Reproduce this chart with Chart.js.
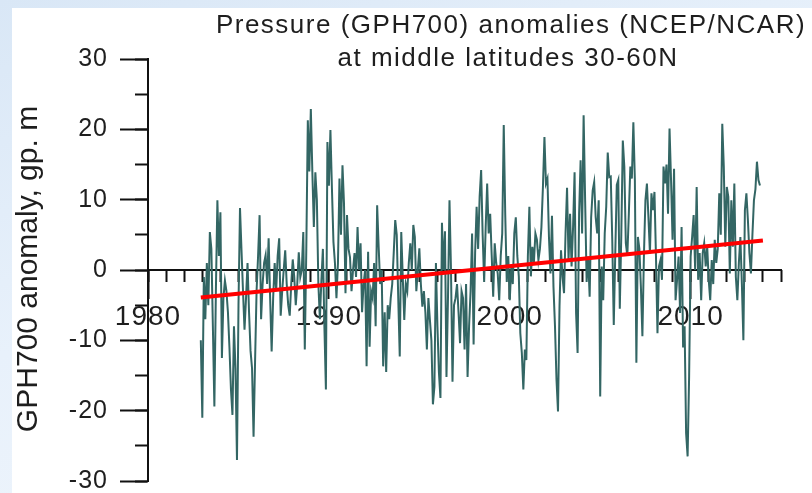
<!DOCTYPE html>
<html>
<head>
<meta charset="utf-8">
<title>GPH700 anomalies</title>
<script src="https://cdn.jsdelivr.net/npm/chart.js@4/dist/chart.umd.min.js"></script>
<style>
  html, body { margin: 0; padding: 0; width: 812px; height: 493px; overflow: hidden; }
  body { background: linear-gradient(160deg, #d9e7f6 0%, #e8f1fb 45%, #f1f6fc 100%); }
  #panel { position: absolute; left: 12px; top: 8px; width: 800px; height: 485px; background: #fff; }
  canvas { display: block; }
</style>
</head>
<body>
<div id="panel"><canvas id="chart" width="800" height="485"></canvas></div>
<script>
// monthly GPH700 anomalies (gp. m), first month ~ Dec 1982
const firstMonth = 1982.92;
const gph700 = [
  -10, -21, -1, -7, 1, -5, 5.4, 3, -8, -19.4, -3, 9.9,
  2, 8.2, -12.5, -4, -1.5, -3, -6, -11, -17, -20.6, -8, -14,
  -27, -5, 8.8, 2.8, -3, -8.5, -4, 1, -6, -11.5, -14, -23.7,
  -13, -3, 2, 7.8, -7, -2, 1, 2.1, -2, 4.5, -4, -11.6,
  -4, 1, -3, 2, 4.5, -6.5, -3, 0, 2.8, -2, -5, -6.5,
  -2, 1.5, -1, -5, -2, 2.5, -1, 0, 5.4, -11.3, 3, 21.3,
  14, 22.9, 14, 6.1, 13.9, 10, -2, -7, -1.5, 3, -8, -17,
  18.2, 12, 19.9, 11.6, 4, 1, -4, 1, 13, 5, 14.9, 9.5,
  -3.3, 7.8, 3, 1.8, -3, 0, 2.4, -1, 6.1, 0, 3.8, -6,
  -2, 0, -13.7, 2.6, -10.9, -3, -4, 1, -8, 9.2, 3.3, -2,
  0, -13.7, -6, -14.5, -5, -7, -4, -2, 2.4, 7.1, 5, -4,
  -12.3, 5.4, -1, -7.1, -2, -3, 1, 3.8, 0, 6.4, 4.7, -3,
  0, 3.1, -2, -5.2, -3, -6, -11.3, -4, -7.1, -10, -19.1, -16.6,
  1, -8, -14.6, -18.2, 6.7, 0, 5.5, -15.2, -4, 9.9, 0, -15.9,
  -5, -4, -2, -6, -10.4, -3, -4, -11.3, -2, -15.2, -8, -3,
  5.2, -10.6, 2.4, 9, 3, 10.4, 14.2, 5, -1.7, 6, 12.3, 5.2,
  8, 2.1, -3.8, 3.8, 1, -0.5, -4.3, 2, 5.2, 20.6, 7.8, -1.7,
  2, -4.3, 0.5, -2, 5.2, 7.5, 2, -0.9, -9, -11.8, -17, -11.3,
  -12.8, 1.9, 9, -0.9, 3.3, 1, 5.2, 4.3, 1.4, 3, 6.1, 11.8,
  18.9, 12.3, 13, 4.7, -0.5, 7.7, -2.4, -8, -15.6, -20.1, -5.2, 2.8,
  -1, -3.3, 5.2, 11.7, 1.4, 8, 0.5, 6.1, 13.9, -6.1, -11.8, 8,
  15.6, 5.2, 22, 9.9, -1.7, 1.9, -3.8, 7.5, 11.3, 12.5, 7.5, 5.2,
  9.9, -18, 0.5, -4.3, 5.2, 9, 16.7, 13.2, 13.3, 4.3, -7.8, 2.4,
  12.1, 12.8, -5.5, 5, 18.4, 14.7, 3.8, 2, 8, 14.7, 13, 21,
  12.8, -13.2, 4.7, 3, -2.4, -9.4, 2, 9.9, 12.3, 7.5, 2.4, 10.9,
  8.5, 11.1, 2, -9, 0.5, 1.4, -1.4, 14.7, 12.3, 15, 8, 20.1,
  12.8, 4.3, 14.4, -4.3, -1.4, 1.9, -6.1, 6.1, -11, -8, -23.2, -26.5,
  -15.1, 1.9, 4.7, 7.8, 0, 11.8, -1.4, 2.4, -4.3, 2.4, 3.8, 0.5,
  3.3, -1.4, -4.3, 1.4, -2, 4.3, 1, 3, 10.9, 5, 20.8, 14.7,
  3.3, 11.8, 10.4, -0.5, 9.9, 3.3, 12.3, -1, -4.3, 1, 4.7, -2,
  -10, 8.5, 10.9, 7.1, 2.4, -0.5, 5, 9.9, 11.5, 15.4, 12.8, 12
];

// linear trend (red line), ends only
const trendYears = [1982.92, 2014.0];
const trendValues = [-3.9, 4.2];

// labelled year ticks on the zero line
const yearTicks = [1980, 1990, 2000, 2010];

const titleLines = ['Pressure (GPH700) anomalies (NCEP/NCAR)', 'at middle latitudes 30-60N'];
const yTitle = 'GPH700 anomaly, gp. m';

const monthly = gph700.map((v, i) => ({ x: firstMonth + i / 12, y: v }));
const trend = trendYears.map((t, i) => ({ x: t, y: trendValues[i] }));

const ink = '#1e1e1e';
const font = 'Liberation Sans, Arial, sans-serif';

// titles are drawn by hand so they sit where the original puts them
const titlesPlugin = {
  id: 'titles',
  beforeDraw(chart) {
    chart.ctx.letterSpacing = '1px';
  },
  afterDraw(chart) {
    const ctx = chart.ctx;
    ctx.save();
    ctx.fillStyle = ink;
    ctx.textAlign = 'center';
    ctx.textBaseline = 'alphabetic';
    ctx.font = '26px ' + font;
    ctx.letterSpacing = '1.5px';
    ctx.fillText(titleLines[0], 499, 25);
    ctx.fillText(titleLines[1], 496, 58);
    ctx.letterSpacing = '0px';
    ctx.font = '30px ' + font;
    ctx.translate(25, 261);
    ctx.rotate(-Math.PI / 2);
    ctx.fillText(yTitle, 0, 0);
    ctx.restore();
  }
};

new Chart(document.getElementById('chart'), {
  type: 'line',
  data: {
    datasets: [
      {
        label: 'trend',
        data: trend,
        borderColor: '#ff0000',
        borderWidth: 4,
        pointRadius: 0,
        xAxisID: 'x',
        yAxisID: 'y'
      },
      {
        label: 'GPH700',
        data: monthly,
        borderColor: '#336664',
        borderWidth: 2,
        pointRadius: 0,
        tension: 0,
        xAxisID: 'x',
        yAxisID: 'y'
      }
    ]
  },
  options: {
    responsive: false,
    animation: false,
    layout: { padding: { left: 0, top: 51, right: 31, bottom: 12 } },
    plugins: { legend: { display: false }, tooltip: { enabled: false } },
    scales: {
      y: {
        type: 'linear',
        position: 'left',
        min: -30,
        max: 30,
        ticks: {
          stepSize: 10,
          padding: 12,
          color: ink,
          font: { family: font, size: 25, lineHeight: 1 }
        },
        grid: { drawOnChartArea: false, tickLength: 28, tickWidth: 2, tickColor: '#111' },
        border: { display: true, color: '#111', width: 2 },
        afterFit(scale) {
          scale.width = 136;
          scale.paddingTop = 0;
          scale.paddingBottom = 0;
        }
      },
      yMinor: {
        type: 'linear',
        position: { x: 1980 },
        min: -30,
        max: 30,
        ticks: { display: false, stepSize: 5 },
        grid: { drawOnChartArea: false, tickLength: 13, tickWidth: 2, tickColor: '#111' },
        border: { display: false }
      },
      x: {
        type: 'linear',
        position: { y: 0 },
        min: 1980,
        max: 2015,
        ticks: {
          padding: 2,
          color: ink,
          autoSkip: false,
          maxRotation: 0,
          font: { family: font, size: 28 },
          callback: v => String(v)
        },
        afterBuildTicks(scale) {
          scale.ticks = yearTicks.map(v => ({ value: v }));
        },
        grid: { drawOnChartArea: false, tickLength: 28, tickWidth: 2, tickColor: '#111' },
        border: { display: true, color: '#111', width: 2 }
      },
      xMinor: {
        type: 'linear',
        position: { y: 0 },
        min: 1980,
        max: 2015,
        ticks: { display: false, stepSize: 1, autoSkip: false },
        grid: { drawOnChartArea: false, tickLength: 12, tickWidth: 2, tickColor: '#111' },
        border: { display: false }
      }
    }
  },
  plugins: [titlesPlugin]
});
</script>
</body>
</html>
